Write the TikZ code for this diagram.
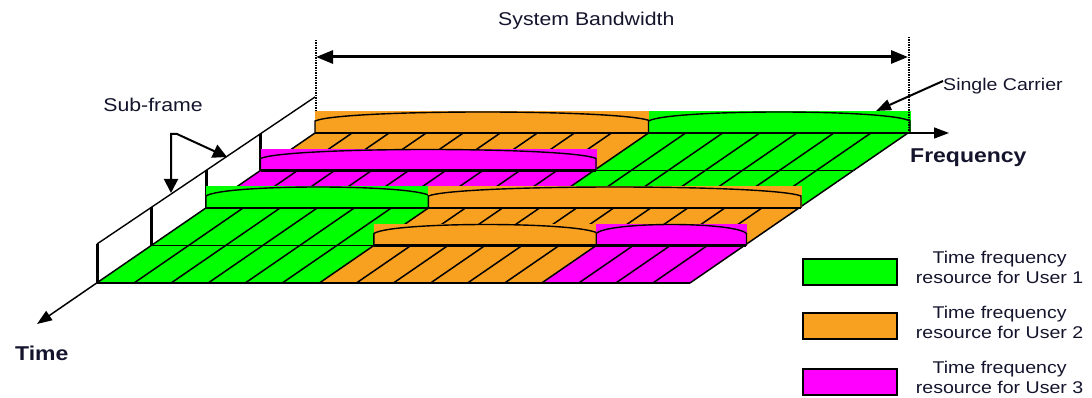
\documentclass[tikz,border=0pt]{standalone}
\usepackage{fontspec}
\setmainfont{Liberation Sans}
\newfontfamily\widefont{Liberation Sans}[FakeStretch=1.15]
\usetikzlibrary{positioning,arrows.meta}

\definecolor{ugreen}{RGB}{0,255,0}
\definecolor{uorange}{RGB}{248,160,32}
\definecolor{umagenta}{RGB}{255,0,255}
\definecolor{ink}{RGB}{20,20,45}

% raised carrier slab standing on a row line: colour, first column, last column, row line
\newcommand{\wall}[4]{%
  \pgfmathsetmacro{\wxa}{97+37.06*#2+54.5*#4}%
  \pgfmathsetmacro{\wxb}{99+37.06*#3+54.5*#4}%
  \pgfmathsetmacro{\wyb}{283-37.5*#4}%
  \pgfmathsetmacro{\wdx}{0.08*(\wxb-\wxa)}%
  \fill[#1] (\wxa,\wyb) rectangle (\wxb+1,\wyb-21.5);
  \draw[wall line] (\wxa,\wyb) -- (\wxa,\wyb-12)
    .. controls (\wxa+\wdx,\wyb-24) and (\wxb-\wdx,\wyb-24) .. (\wxb,\wyb-12) -- (\wxb,\wyb);
  \draw[wall base] (\wxa,\wyb) -- (\wxb,\wyb);
}

\begin{document}
\begin{tikzpicture}[x=1pt, y=-1pt,
    cell/.style={draw=black, line width=1.5pt},
    wall line/.style={line width=1.4pt},
    wall base/.style={line width=2.4pt},
    arrowtip/.style={-{Triangle[length=15pt,width=11pt]}},
    tick/.style={line width=1.4pt, dash pattern=on 1.5pt off 1pt},
    lbl/.style={text=ink, inner sep=0pt, font=\widefont\fontsize{17}{20}\selectfont},
    keybox/.style={draw=black, line width=1.5pt, minimum width=94pt, minimum height=26pt, inner sep=0pt}]

    \useasboundingbox (0,0) rectangle (1092,398);

    % floor of four sub-frames, 16 resource blocks each
    \begin{scope}[shift={(97,283)}, x={(37.06pt,0pt)}, y={(54.5pt,37.5pt)}]
        \foreach \a/\b/\v/\col in {0/6/0/ugreen, 6/12/0/uorange, 12/16/0/umagenta,
                                   0/6/1/ugreen, 6/16/1/uorange,
                                   0/9/2/umagenta, 9/16/2/ugreen,
                                   0/9/3/uorange, 9/16/3/ugreen}
            \fill[\col] (\a,\v) -- (\b,\v) -- (\b,\v+1) -- (\a,\v+1) -- cycle;
        \foreach \v in {0,...,3}
            \foreach \u in {1,...,16}
                \draw[cell] (\u,\v) -- (\u,\v+1);
        \foreach \v in {0,...,4}
            \draw[cell] (0,\v) -- (16,\v);
    \end{scope}

    % sub-frame fence along the time axis
    \foreach \i in {0,...,4} {
        \coordinate (f\i) at (97+54.5*\i, 283-37.5*\i);
        \coordinate (t\i) at (97+54.5*\i, 244-36.75*\i);
    }
    \coordinate (timeend) at (37,324);
    \draw[line width=1.4pt] (t0) -- (t4);
    \foreach \i in {0,...,3}
        \draw[line width=3pt] (f\i) -- (t\i);
    \draw[line width=1.5pt, arrowtip] (f4) -- (timeend);

    \coordinate (bwl) at (316,57);
    \coordinate (bwr) at (908,57);
    \draw[tick] (316,40) -- (316,133);

    % carriers
    \wall{uorange}{0}{9}{4}
    \wall{ugreen}{9}{16}{4}
    \wall{umagenta}{0}{9}{3}
    \wall{ugreen}{0}{6}{2}
    \wall{uorange}{6}{16}{2}
    \wall{uorange}{6}{12}{1}
    \wall{umagenta}{12}{16}{1}

    \draw[tick] (909,37) -- (909,133);
    \draw[line width=3pt, {Triangle[length=17pt,width=13pt]}-{Triangle[length=17pt,width=13pt]}] (bwl) -- (bwr);
    \node[lbl, font=\widefont\fontsize{18.5}{22}\selectfont, anchor=west] (bw) at (498,21) {System Bandwidth};

    \coordinate (freqstart) at (908,133);
    \coordinate (freqend) at (949,133);
    \draw[line width=1.5pt, arrowtip] (freqstart) -- (freqend);
    \node[lbl, font=\widefont\bfseries\fontsize{20}{24}\selectfont, anchor=west] (freq) at (910,158) {Frequency};
    \node[lbl, font=\widefont\bfseries\fontsize{20}{24}\selectfont, anchor=west] (time) at (15,353) {Time};

    \node[lbl, anchor=west] (single) at (943,86) {Single Carrier};
    \coordinate (sctip) at (876,111);
    \draw[line width=2pt, arrowtip] ([yshift=5pt]single.west) -- (sctip);

    \node[lbl, font=\widefont\fontsize{18.5}{22}\selectfont] (subframe) at (153,105) {Sub-frame};
    \coordinate (sfk) at (171,134);
    \coordinate (sfk2) at (177,134);
    \coordinate (sfa) at (171,193);
    \coordinate (sfb) at (227,157);
    \draw[line width=2pt, {Triangle[length=14pt,width=14pt]}-{Triangle[length=14pt,width=14pt]}]
        (sfa) -- (sfk) -- (sfk2) -- (sfb);

    % legend
    \node[keybox, fill=ugreen] (key1) at (850,272) {};
    \node[keybox, fill=uorange] (key2) at (850,326) {};
    \node[keybox, fill=umagenta] (key3) at (850,382) {};
    \node[lbl, align=center, right=18pt of key1, yshift=5pt] (txt1) {Time frequency\\resource for User 1};
    \node[lbl, align=center, right=18pt of key2, yshift=4pt] (txt2) {Time frequency\\resource for User 2};
    \node[lbl, align=center, right=18pt of key3, yshift=5pt] (txt3) {Time frequency\\resource for User 3};

\end{tikzpicture}
\end{document}
